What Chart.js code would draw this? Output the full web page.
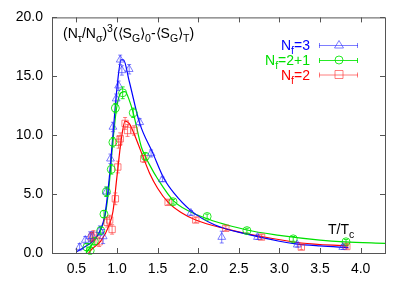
<!DOCTYPE html>
<html>
<head>
<meta charset="utf-8">
<script src="https://cdn.jsdelivr.net/npm/chart.js@4.4.1/dist/chart.umd.min.js"></script>
<style>
  html, body { margin: 0; padding: 0; background: #fff; }
  #wrap { width: 403px; height: 282px; }
</style>
</head>
<body>
<div id="wrap"><canvas id="c" width="403" height="282"></canvas></div>
<script>
// data
const nf3X   = [0.54, 0.61, 0.67, 0.70, 0.79, 0.83, 0.87, 0.92, 0.95, 0.99, 1.02, 1.04, 1.06, 1.15, 1.28, 1.42, 1.56, 1.91, 2.29, 2.73, 3.22, 3.78];
const nf3Y   = [0.5, 1.1, 1.4, 1.4, 1.9, 1.4, 5.2, 8.0, 10.7, 13.1, 14.2, 16.4, 15.5, 15.6, 11.1, 8.45, 6.25, 3.4, 1.35, 1.35, 0.7, 0.5];
const nf3Err = [0.3, 0.3, 0.4, 0.4, 0.4, 0.6, 0.4, 0.4, 0.4, 0.4, 0.4, 0.4, 0.4, 0.4, 0.3, 0.3, 0.2, 0.2, 0.5, 0.2, 0.2, 0.2];

const nf21X   = [0.63, 0.67, 0.72, 0.80, 0.84, 0.87, 0.93, 0.95, 0.98, 1.07, 1.20, 1.35, 1.69, 2.11, 2.60, 3.17, 3.82];
const nf21Y   = [0.5, 0.2, 1.0, 1.9, 3.3, 5.2, 7.1, 9.4, 12.3, 13.6, 11.9, 8.2, 4.35, 3.1, 1.9, 1.2, 0.95];
const nf21Err = [0.3, 0.3, 0.3, 0.3, 0.3, 0.4, 0.4, 0.4, 0.4, 0.5, 0.4, 0.3, 0.2, 0.2, 0.2, 0.2, 0.2];

const nf2X   = [0.69, 0.71, 0.78, 0.88, 0.91, 0.94, 0.98, 1.01, 1.02, 1.04, 1.10, 1.13, 1.21, 1.33, 1.63, 1.97, 2.34, 2.78, 3.27, 3.83];
const nf2Y   = [1.35, 1.5, 0.95, 2.6, 2.8, 2.0, 4.6, 7.3, 9.4, 9.7, 11.0, 10.4, 10.4, 8.0, 4.3, 2.8, 2.1, 1.35, 0.5, 0.55];
const nf2Err = [0.4, 0.4, 0.4, 0.4, 0.4, 0.4, 0.5, 0.5, 0.5, 0.5, 0.5, 0.5, 0.4, 0.3, 0.2, 0.2, 0.2, 0.2, 0.2, 0.2];

// fit curves, sampled by eye from the plot
const fit3X = [0.50, 0.60, 0.70, 0.80, 0.85, 0.90, 0.95, 1.00, 1.05, 1.08, 1.15, 1.28, 1.44, 1.58, 1.70, 1.91, 2.20, 2.60, 3.00, 3.20, 3.50, 3.85];
const fit3Y = [0.1, 0.5, 1.0, 2.0, 3.2, 6.0, 10.0, 14.0, 16.4, 16.4, 14.6, 11.0, 8.5, 6.3, 5.1, 3.6, 2.4, 1.6, 1.0, 0.78, 0.6, 0.45];

const fit21X = [0.62, 0.70, 0.80, 0.85, 0.90, 0.95, 1.00, 1.05, 1.10, 1.15, 1.20, 1.30, 1.35, 1.40, 1.50, 1.70, 2.00, 2.60, 3.00, 3.50, 3.80, 4.30];
const fit21Y = [0.0, 0.8, 2.0, 3.0, 5.5, 9.5, 12.5, 13.6, 13.7, 13.0, 11.9, 9.0, 8.2, 7.5, 6.3, 4.4, 3.2, 1.95, 1.5, 1.1, 0.95, 0.82];

const fit2X = [0.65, 0.70, 0.80, 0.90, 0.95, 1.00, 1.05, 1.10, 1.15, 1.20, 1.33, 1.40, 1.50, 1.63, 1.80, 1.97, 2.34, 2.78, 3.27, 3.85];
const fit2Y = [0.0, 0.4, 1.0, 2.3, 3.5, 6.5, 9.5, 11.2, 11.0, 10.3, 8.0, 6.8, 5.5, 4.3, 3.4, 2.8, 2.05, 1.4, 0.85, 0.6];

const xTicks = [0.5, 1.0, 1.5, 2.0, 2.5, 3.0, 3.5, 4.0];
const yTicks = [0, 5, 10, 15, 20];

const BLUE = '#0000ff', GREEN = '#00e000', RED = '#ff0000';
const BLUE_M = 'rgba(40,40,255,0.6)', GREEN_M = 'rgba(0,230,0,0.85)', RED_M = 'rgba(255,40,40,0.6)';
const FONT = '"Liberation Sans", Arial, sans-serif';

const pts = (xs, ys) => xs.map((x, i) => ({ x, y: ys[i] }));

function pointSet(label, xs, ys, err, color, style) {
  return {
    label, data: pts(xs, ys), err, showLine: false,
    pointStyle: style, pointRadius: style === 'circle' ? 4 : 4.5,
    borderColor: color, backgroundColor: 'rgba(0,0,0,0)', pointBorderWidth: 1, order: 1
  };
}
function fitSet(xs, ys, color) {
  return {
    data: pts(xs, ys), showLine: true, pointRadius: 0, borderColor: color,
    borderWidth: 1.2, tension: 0.4, cubicInterpolationMode: 'monotone', order: 2, fit: true
  };
}

// draw text with sub/superscripts: parts = [[text, 'n'|'sub'|'sup'], ...]
function richWidth(ctx, parts, size) {
  let w = 0;
  for (const [t, k] of parts) {
    ctx.font = (k === 'n' ? size : size * 0.75) + 'px ' + FONT;
    w += ctx.measureText(t).width;
  }
  return w;
}
function drawRich(ctx, x, y, parts, size, color) {
  ctx.fillStyle = color;
  ctx.textAlign = 'left';
  ctx.textBaseline = 'alphabetic';
  for (const [t, k] of parts) {
    ctx.font = (k === 'n' ? size : size * 0.75) + 'px ' + FONT;
    const dy = k === 'sub' ? size * 0.3 : k === 'sup' ? -size * 0.42 : 0;
    ctx.fillText(t, x, y + dy);
    x += ctx.measureText(t).width;
  }
}

function drawMarker(ctx, style, x, y, color) {
  ctx.strokeStyle = color;
  ctx.lineWidth = 1;
  ctx.beginPath();
  if (style === 'triangle') {
    ctx.moveTo(x, y - 4.5); ctx.lineTo(x + 4.5, y + 3); ctx.lineTo(x - 4.5, y + 3); ctx.closePath();
  } else if (style === 'circle') {
    ctx.arc(x, y, 4, 0, Math.PI * 2);
  } else {
    ctx.rect(x - 4, y - 4, 8, 8);
  }
  ctx.stroke();
}

const errorBars = {
  id: 'errorBars',
  afterDatasetsDraw(chart) {
    const ctx = chart.ctx, xs = chart.scales.x, ys = chart.scales.y;
    ctx.save();
    chart.data.datasets.forEach(ds => {
      if (!ds.err) return;
      ctx.strokeStyle = ds.borderColor;
      ctx.lineWidth = 1;
      ds.data.forEach((p, i) => {
        const px = xs.getPixelForValue(p.x);
        const y1 = ys.getPixelForValue(p.y - ds.err[i]);
        const y2 = ys.getPixelForValue(p.y + ds.err[i]);
        ctx.beginPath();
        ctx.moveTo(px, y1); ctx.lineTo(px, y2);
        ctx.moveTo(px - 2, y1); ctx.lineTo(px + 2, y1);
        ctx.moveTo(px - 2, y2); ctx.lineTo(px + 2, y2);
        ctx.stroke();
      });
    });
    ctx.restore();
  }
};

const frame = {
  id: 'frame',
  afterDraw(chart) {
    const ctx = chart.ctx, a = chart.chartArea, xs = chart.scales.x, ys = chart.scales.y;
    ctx.save();
    ctx.strokeStyle = '#555';
    ctx.lineWidth = 1;
    ctx.strokeRect(a.left + 0.5, a.top + 0.5, a.right - a.left, a.bottom - a.top);
    ctx.beginPath();
    xTicks.forEach(v => {
      const px = Math.round(xs.getPixelForValue(v)) + 0.5;
      ctx.moveTo(px, a.bottom); ctx.lineTo(px, a.bottom - 5);
      ctx.moveTo(px, a.top); ctx.lineTo(px, a.top + 5);
    });
    yTicks.forEach(v => {
      const py = Math.round(ys.getPixelForValue(v)) + 0.5;
      ctx.moveTo(a.left, py); ctx.lineTo(a.left + 5, py);
      ctx.moveTo(a.right, py); ctx.lineTo(a.right - 5, py);
    });
    ctx.stroke();

    // inner labels
    drawRich(ctx, 63, 38, [['(N', 'n'], ['τ', 'sub'], ['/N', 'n'], ['σ', 'sub'], [')', 'n'], ['3', 'sup'],
      ['(⟨S', 'n'], ['G', 'sub'], ['⟩', 'n'], ['0', 'sub'], ['-⟨S', 'n'], ['G', 'sub'], ['⟩', 'n'], ['T', 'sub'], [')', 'n']], 14, '#000');
    drawRich(ctx, 328, 234, [['T/T', 'n'], ['c', 'sub']], 14, '#000');

    // legend
    const rows = [
      { parts: [['N', 'n'], ['f', 'sub'], ['=3', 'n']], color: BLUE, mcol: BLUE_M, style: 'triangle', y: 45 },
      { parts: [['N', 'n'], ['f', 'sub'], ['=2+1', 'n']], color: GREEN, mcol: GREEN_M, style: 'circle', y: 60 },
      { parts: [['N', 'n'], ['f', 'sub'], ['=2', 'n']], color: RED, mcol: RED_M, style: 'rect', y: 74.5 }
    ];
    rows.forEach(r => {
      const w = richWidth(ctx, r.parts, 14);
      drawRich(ctx, 310 - w, r.y + 5, r.parts, 14, r.color);
      ctx.strokeStyle = r.mcol;
      ctx.lineWidth = 1;
      ctx.beginPath();
      ctx.moveTo(319, r.y + 0.5); ctx.lineTo(358, r.y + 0.5);
      ctx.moveTo(319.5, r.y - 2); ctx.lineTo(319.5, r.y + 3);
      ctx.moveTo(357.5, r.y - 2); ctx.lineTo(357.5, r.y + 3);
      ctx.stroke();
      drawMarker(ctx, r.style, 339, r.y, r.mcol);
    });
    ctx.restore();
  }
};

new Chart(document.getElementById('c'), {
  type: 'scatter',
  data: {
    datasets: [
      fitSet(fit3X, fit3Y, BLUE),
      fitSet(fit21X, fit21Y, GREEN),
      fitSet(fit2X, fit2Y, RED),
      pointSet('Nf=3', nf3X, nf3Y, nf3Err, BLUE_M, 'triangle'),
      pointSet('Nf=2+1', nf21X, nf21Y, nf21Err, GREEN_M, 'circle'),
      pointSet('Nf=2', nf2X, nf2Y, nf2Err, RED_M, 'rect')
    ]
  },
  options: {
    responsive: false,
    animation: false,
    layout: { padding: { left: 0, right: 18, top: 17, bottom: 0 } },
    plugins: { legend: { display: false }, tooltip: { enabled: false } },
    scales: {
      x: {
        type: 'linear', min: 0.2, max: 4.3,
        afterBuildTicks: s => { s.ticks = xTicks.map(v => ({ value: v })); },
        afterFit: s => { s.height = 29; },
        grid: { display: false, drawTicks: false }, border: { display: false },
        ticks: { color: '#000', font: { family: FONT, size: 14 }, padding: 8, maxRotation: 0,
                 callback: v => v.toFixed(1) }
      },
      y: {
        min: 0, max: 20,
        afterBuildTicks: s => { s.ticks = yTicks.map(v => ({ value: v })); },
        afterFit: s => { s.width = 52; },
        grid: { display: false, drawTicks: false }, border: { display: false },
        ticks: { color: '#000', font: { family: FONT, size: 14 }, padding: 9,
                 callback: v => v.toFixed(1) }
      }
    }
  },
  plugins: [errorBars, frame]
});
</script>
</body>
</html>
